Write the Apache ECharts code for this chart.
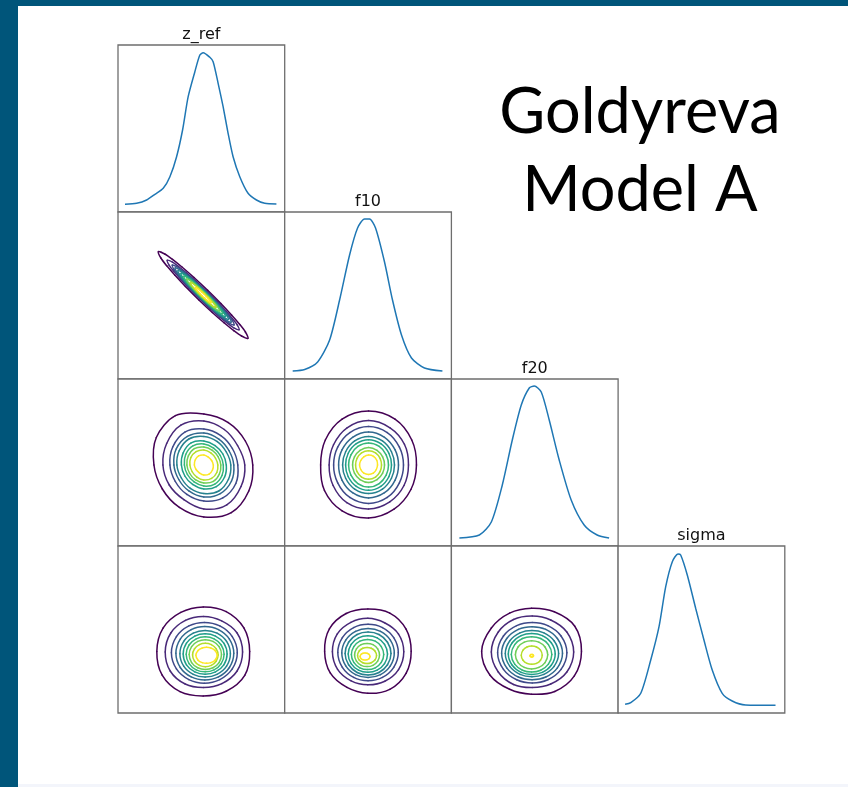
<!DOCTYPE html>
<html>
<head>
<meta charset="utf-8">
<script src="https://cdn.jsdelivr.net/npm/echarts@6/dist/echarts.min.js"></script>
<style>
  html, body { margin: 0; padding: 0; background: #ffffff; }
  #chart { width: 848px; height: 787px; }
</style>
</head>
<body>
<div id="chart"></div>
<script>
// ---------------- DATA (cell units: 0..167 on each axis of every panel) ----------------
const variables = ['z_ref', 'f10', 'f20', 'sigma'];
const levelColors = ['#440154', '#482878', '#3e4989', '#31688e', '#26828e',
                     '#1f9e89', '#35b779', '#6ece58', '#b5de2b', '#fde725'];

// 1-D marginal curves (diagonal)
const zrefX = [7, 18.7, 28.7, 37, 45.3, 52, 58.7, 64.7, 70.3, 77, 82, 85.3, 92, 95.3, 100.3, 105.3, 110.3, 115.3, 122, 130.3, 138.7, 147, 158.7];
const zrefY = [7.7, 8.7, 12, 17.7, 23.7, 35.3, 55.3, 82, 115.3, 140.3, 157, 159.3, 154.7, 150.3, 128.7, 105.3, 78.7, 55.3, 35.3, 18.7, 12, 8.7, 8];
const f10X = [8, 20, 33, 45, 55, 65, 73, 80, 85, 91, 100, 108, 117, 127, 140, 158];
const f10Y = [8, 9.5, 17, 39, 79, 124, 151, 160, 160, 151, 117, 79, 44, 21, 11, 8];
const f20X = [8, 28, 40, 51, 61, 70, 78, 83, 90, 98, 108, 120, 133, 146, 158];
const f20Y = [8, 11, 24, 61, 106, 141, 158, 160, 154, 126, 86, 46, 21, 11, 8];
const sigmaX = [7, 12.7, 22.7, 32.7, 41, 47.7, 54.3, 60, 62.7, 69.3, 77.7, 86, 94.3, 104.3, 114.3, 127.7, 157.7];
const sigmaY = [8.7, 10.3, 19.7, 53, 86.3, 126.3, 151.3, 159, 158, 138, 104.7, 73, 43, 19.7, 12, 8, 7.7];

// f10 vs z_ref : narrow tilted contours (half-length and half-widths along the major axis)
const needleCenter = [85.3, 84];
const needleAngle = 136;           // degrees, direction of the major axis
const needleStations = [0, 0.3, 0.55, 0.75, 0.9, 1];
const needleLengths = [62.4, 50, 43, 39, 35, 31, 27, 23, 18, 11];
const needleWidths = [
  [6.5, 6.2, 5.4, 4.3, 2.8, 0], [5.2, 5.0, 4.3, 3.4, 2.3, 0], [4.5, 4.3, 3.8, 3.0, 2.0, 0],
  [4.1, 3.9, 3.4, 2.7, 1.8, 0], [3.7, 3.5, 3.1, 2.4, 1.6, 0], [3.3, 3.1, 2.8, 2.2, 1.4, 0],
  [2.9, 2.8, 2.4, 1.9, 1.3, 0], [2.5, 2.4, 2.1, 1.7, 1.1, 0], [2.0, 1.9, 1.7, 1.3, 0.9, 0],
  [1.3, 1.2, 1.1, 0.9, 0.6, 0]
];

// contour rings: radius at 12 directions (every 30 deg, counter-clockwise from +x)
const f20zrefCenter = [86, 81];
const f20zrefRadii = [
  [49, 48, 49, 51, 57, 55, 50, 48, 49, 52, 55, 52],
  [41, 39, 41, 44, 46, 43, 41, 40, 40, 44, 46, 43],
  [34, 33, 34, 36, 38, 36, 34, 33, 34, 36, 38, 37],
  [30, 29, 30, 32, 33, 32, 30, 29, 30, 32, 33, 32],
  [27, 26, 27, 28.5, 30, 28.5, 27, 26, 27, 28.5, 30, 28.5],
  [22.5, 22, 22.5, 24, 25.5, 24, 22.5, 22, 22.5, 24, 25, 24],
  [19.5, 19, 19.5, 21, 22, 21, 19.5, 19, 19.5, 21, 22, 21],
  [17, 16.5, 17, 18, 19, 18, 17, 16.5, 17, 18, 19, 18],
  [14, 13.5, 14, 15, 15.5, 15, 14, 13.5, 14, 15, 15.5, 15],
  [9.5, 9, 9, 10, 10.5, 10, 9.5, 9, 9, 10, 10.5, 10]
];
const f20f10Center = [84, 81];
const f20f10Radii = [
  [48, 50, 53, 54, 53, 50, 48, 51, 53, 53, 51, 49],
  [40, 41.5, 43, 44.5, 43, 40.5, 39.5, 41, 43.5, 44, 42.5, 41],
  [35, 35.7, 37.5, 38.5, 37.5, 35.7, 35, 35.7, 37.5, 38.5, 37.5, 35.7],
  [30, 30.6, 32, 33, 32, 30.6, 30, 30.6, 32, 33, 32, 30.6],
  [26, 26.5, 27.8, 28.6, 27.8, 26.5, 26, 26.5, 27.8, 28.6, 27.8, 26.5],
  [23, 23.5, 24.6, 25.3, 24.6, 23.5, 23, 23.5, 24.6, 25.3, 24.6, 23.5],
  [20, 20.4, 21.4, 22, 21.4, 20.4, 20, 20.4, 21.4, 22, 21.4, 20.4],
  [16, 16.3, 17, 17.6, 17, 16.3, 16, 16.3, 17, 17.6, 17, 16.3],
  [13, 13.3, 14, 14.3, 14, 13.3, 13, 13.3, 14, 14.3, 14, 13.3],
  [9, 9.5, 10, 10, 9.5, 9, 9, 9, 9.5, 9.5, 9.5, 9]
];
const sigmaZrefCenters = [[85.4, 61.6], [85.8, 61], [86.5, 60.2], [87, 59.7], [87.3, 59.3],
                          [87.3, 59], [87.3, 58.7], [87.5, 58.4], [87.5, 58], [88.7, 57.7]];
const sigmaZrefRadii = [
  [46.5, 47, 46, 44.5, 45, 46.5, 46.5, 47.5, 46.5, 44.5, 46, 48],
  [39, 38.5, 36, 35.5, 36.5, 38, 38.5, 38.5, 37, 35.5, 36.5, 38.5],
  [33, 32.3, 31, 30.4, 31, 32.3, 33, 32.3, 31, 30.4, 31, 32.3],
  [29, 28.4, 27.3, 26.7, 27.3, 28.4, 29, 28.4, 27.3, 26.7, 27.3, 28.4],
  [25.3, 24.8, 23.8, 23.3, 23.8, 24.8, 25.3, 24.8, 23.8, 23.3, 23.8, 24.8],
  [22, 21.6, 20.7, 20.2, 20.7, 21.6, 22, 21.6, 20.7, 20.2, 20.7, 21.6],
  [19, 18.6, 17.9, 17.5, 17.9, 18.6, 19, 18.6, 17.9, 17.5, 17.9, 18.6],
  [16.2, 15.9, 15.2, 14.9, 15.2, 15.9, 16.2, 15.9, 15.2, 14.9, 15.2, 15.9],
  [12.8, 12.5, 12, 11.8, 12, 12.5, 12.8, 12.5, 12, 11.8, 12, 12.5],
  [10.7, 9.8, 8.5, 8, 8.5, 9.8, 10.7, 9.8, 8.5, 8, 8.5, 9.8]
];
const sigmaF10Centers = [[83.3, 61.8], [83.3, 61.2], [83.5, 60.5], [83.5, 60], [83.5, 59.5],
                         [83.3, 59], [83, 58.5], [82.5, 58], [82.5, 57.5], [80.5, 56.5]];
const sigmaF10Radii = [
  [43.4, 44.2, 44, 42.2, 43.5, 44.5, 43.3, 43.5, 41.8, 42.1, 44, 44.2],
  [36, 35.5, 33.5, 33.5, 34, 35.5, 35.5, 35, 33.5, 33, 34, 35.5],
  [30.3, 29.7, 28.8, 28.2, 28.8, 29.7, 30.3, 29.7, 28.8, 28.2, 28.8, 29.7],
  [26.3, 25.8, 25, 24.5, 25, 25.8, 26.3, 25.8, 25, 24.5, 25, 25.8],
  [23, 22.5, 21.9, 21.4, 21.9, 22.5, 23, 22.5, 21.9, 21.4, 21.9, 22.5],
  [19.7, 19.3, 18.7, 18.3, 18.7, 19.3, 19.7, 19.3, 18.7, 18.3, 18.7, 19.3],
  [16.2, 15.9, 15.4, 15.1, 15.4, 15.9, 16.2, 15.9, 15.4, 15.1, 15.4, 15.9],
  [12.5, 12.3, 11.9, 11.6, 11.9, 12.3, 12.5, 12.3, 11.9, 11.6, 11.9, 12.3],
  [9.5, 9.1, 8.4, 8.1, 8.4, 9.1, 9.5, 9.1, 8.4, 8.1, 8.4, 9.1],
  [5, 4.5, 3.8, 3.4, 3.8, 4.5, 5, 4.5, 3.8, 3.4, 3.8, 4.5]
];
const sigmaF20Centers = [[80.3, 61.8], [81, 61], [81, 60.3], [80.8, 59.8], [80.7, 59.4],
                         [80.5, 59], [80.3, 58.6], [80.3, 58.2], [80.5, 57.8], [80.5, 57.3]];
const sigmaF20Radii = [
  [50, 50, 45.5, 43, 44, 46.5, 50, 48, 44, 43, 46.5, 49.5],
  [41.5, 40, 37, 36, 37.5, 39.5, 41, 39.5, 37.5, 35.5, 37, 40],
  [34.7, 33.3, 31.2, 30.2, 31.2, 33.3, 34.7, 33.3, 31.2, 30.2, 31.2, 33.3],
  [30.5, 29.3, 27.5, 26.5, 27.5, 29.3, 30.5, 29.3, 27.5, 26.5, 27.5, 29.3],
  [26.7, 25.6, 24, 23.2, 24, 25.6, 26.7, 25.6, 24, 23.2, 24, 25.6],
  [23.5, 22.6, 21.2, 20.4, 21.2, 22.6, 23.5, 22.6, 21.2, 20.4, 21.2, 22.6],
  [20.3, 19.5, 18.3, 17.7, 18.3, 19.5, 20.3, 19.5, 18.3, 17.7, 18.3, 19.5],
  [16.2, 15.6, 14.6, 14.1, 14.6, 15.6, 16.2, 15.6, 14.6, 14.1, 14.6, 15.6],
  [10.5, 10.1, 9.5, 9.1, 9.5, 10.1, 10.5, 10.1, 9.5, 9.1, 9.5, 10.1],
  [1.8, 1.6, 1.4, 1.3, 1.4, 1.6, 1.8, 1.6, 1.4, 1.3, 1.4, 1.6]
];
const titleLines = ['Goldyreva', 'Model A'];

// ---------------- LAYOUT ----------------
const GX0 = 118, GY0 = 45, CW = 166.7, CH = 167, AX = 167;
const grids = [], xAxes = [], yAxes = [], series = [];
const gridIndex = {};
for (let r = 0; r < 4; r++) {
  for (let c = 0; c <= r; c++) {
    const idx = grids.length;
    gridIndex[r + '_' + c] = idx;
    grids.push({ left: GX0 + c * CW, top: GY0 + r * CH, width: CW, height: CH,
      show: true, borderColor: '#6e6e6e', borderWidth: 1.3, backgroundColor: '#ffffff', containLabel: false });
    xAxes.push({ type: 'value', gridIndex: idx, min: 0, max: AX, show: false });
    yAxes.push({ type: 'value', gridIndex: idx, min: 0, max: AX, show: false });
  }
}

// closed Catmull-Rom curve through pixel points, as bezier segments
function closedCurve(pix, color, width) {
  const n = pix.length, children = [];
  for (let i = 0; i < n; i++) {
    const p0 = pix[(i - 1 + n) % n], p1 = pix[i], p2 = pix[(i + 1) % n], p3 = pix[(i + 2) % n];
    children.push({ type: 'bezierCurve', shape: {
      x1: p1[0], y1: p1[1], x2: p2[0], y2: p2[1],
      cpx1: p1[0] + (p2[0] - p0[0]) / 6, cpy1: p1[1] + (p2[1] - p0[1]) / 6,
      cpx2: p2[0] - (p3[0] - p1[0]) / 6, cpy2: p2[1] - (p3[1] - p1[1]) / 6 },
      style: { fill: 'none', stroke: color, lineWidth: width, lineCap: 'round' } });
  }
  return { type: 'group', children: children };
}

function curveSeries(r, xs, ys) {
  const g = gridIndex[r + '_' + r];
  return { type: 'line', xAxisIndex: g, yAxisIndex: g, data: xs.map((x, i) => [x, ys[i]]),
    showSymbol: false, smooth: 0.25, silent: true, animation: false,
    lineStyle: { color: '#1f77b4', width: 1.5 } };
}

function ringSeries(r, c, centers, radii) {
  const g = gridIndex[r + '_' + c];
  return { type: 'custom', xAxisIndex: g, yAxisIndex: g, silent: true, animation: false, clip: false,
    data: radii.map((_, i) => [i]),
    renderItem: function (params, api) {
      const i = params.dataIndex;
      const ctr = Array.isArray(centers[0]) ? centers[i] : centers;
      const rr = radii[i], n = rr.length;
      const pts = rr.map((rad, k) => {
        const a = 2 * Math.PI * k / n;
        return api.coord([ctr[0] + rad * Math.cos(a), ctr[1] + rad * Math.sin(a)]);
      });
      return closedCurve(pts, levelColors[i], 1.5);
    } };
}

function needleSeries(r, c) {
  const g = gridIndex[r + '_' + c];
  const th = needleAngle * Math.PI / 180;
  const eu = [Math.cos(th), Math.sin(th)], ev = [-Math.sin(th), Math.cos(th)];
  return { type: 'custom', xAxisIndex: g, yAxisIndex: g, silent: true, animation: false, clip: false,
    data: needleLengths.map((_, i) => [i]),
    renderItem: function (params, api) {
      const i = params.dataIndex, L = needleLengths[i], W = needleWidths[i];
      const prof = [];   // [t, w] from +tip to -tip on one side
      for (let k = needleStations.length - 1; k >= 0; k--) prof.push([needleStations[k], W[k]]);
      for (let k = 1; k < needleStations.length; k++) prof.push([-needleStations[k], W[k]]);
      const pts = [];
      prof.forEach(p => pts.push([p[0] * L, p[1]]));
      for (let k = prof.length - 2; k >= 1; k--) pts.push([prof[k][0] * L, -prof[k][1]]);
      const pix = pts.map(p => api.coord([
        needleCenter[0] + p[0] * eu[0] + p[1] * ev[0],
        needleCenter[1] + p[0] * eu[1] + p[1] * ev[1]]));
      return closedCurve(pix, levelColors[i], 1.5);
    } };
}

series.push(curveSeries(0, zrefX, zrefY));
series.push(curveSeries(1, f10X, f10Y));
series.push(curveSeries(2, f20X, f20Y));
series.push(curveSeries(3, sigmaX, sigmaY));
series.push(needleSeries(1, 0));
series.push(ringSeries(2, 0, f20zrefCenter, f20zrefRadii));
series.push(ringSeries(2, 1, f20f10Center, f20f10Radii));
series.push(ringSeries(3, 0, sigmaZrefCenters, sigmaZrefRadii));
series.push(ringSeries(3, 1, sigmaF10Centers, sigmaF10Radii));
series.push(ringSeries(3, 2, sigmaF20Centers, sigmaF20Radii));

const graphics = [
  { type: 'rect', shape: { x: 0, y: 0, width: 18, height: 787 }, style: { fill: '#00557a' }, silent: true },
  { type: 'rect', shape: { x: 0, y: 0, width: 848, height: 6 }, style: { fill: '#00557a' }, silent: true },
  { type: 'rect', shape: { x: 18, y: 784, width: 830, height: 3 }, style: { fill: '#f3f5fb' }, silent: true }
];
variables.forEach((v, i) => {
  graphics.push({ type: 'text', x: GX0 + i * CW + CW / 2, y: GY0 + i * CH - 10,
    style: { text: v, font: '16px "DejaVu Sans"', fill: '#111111', align: 'center', verticalAlign: 'middle' },
    silent: true });
});
titleLines.forEach((t, i) => {
  graphics.push({ type: 'text', x: 640, y: 113 + i * 78,
    style: { text: t, font: '63px Lato', fill: '#000000', align: 'center', verticalAlign: 'middle' },
    silent: true });
});

const chart = echarts.init(document.getElementById('chart'), null, { renderer: 'canvas' });
chart.setOption({
  animation: false,
  backgroundColor: '#ffffff',
  grid: grids, xAxis: xAxes, yAxis: yAxes,
  series: series,
  graphic: { elements: graphics }
});
</script>
</body>
</html>
